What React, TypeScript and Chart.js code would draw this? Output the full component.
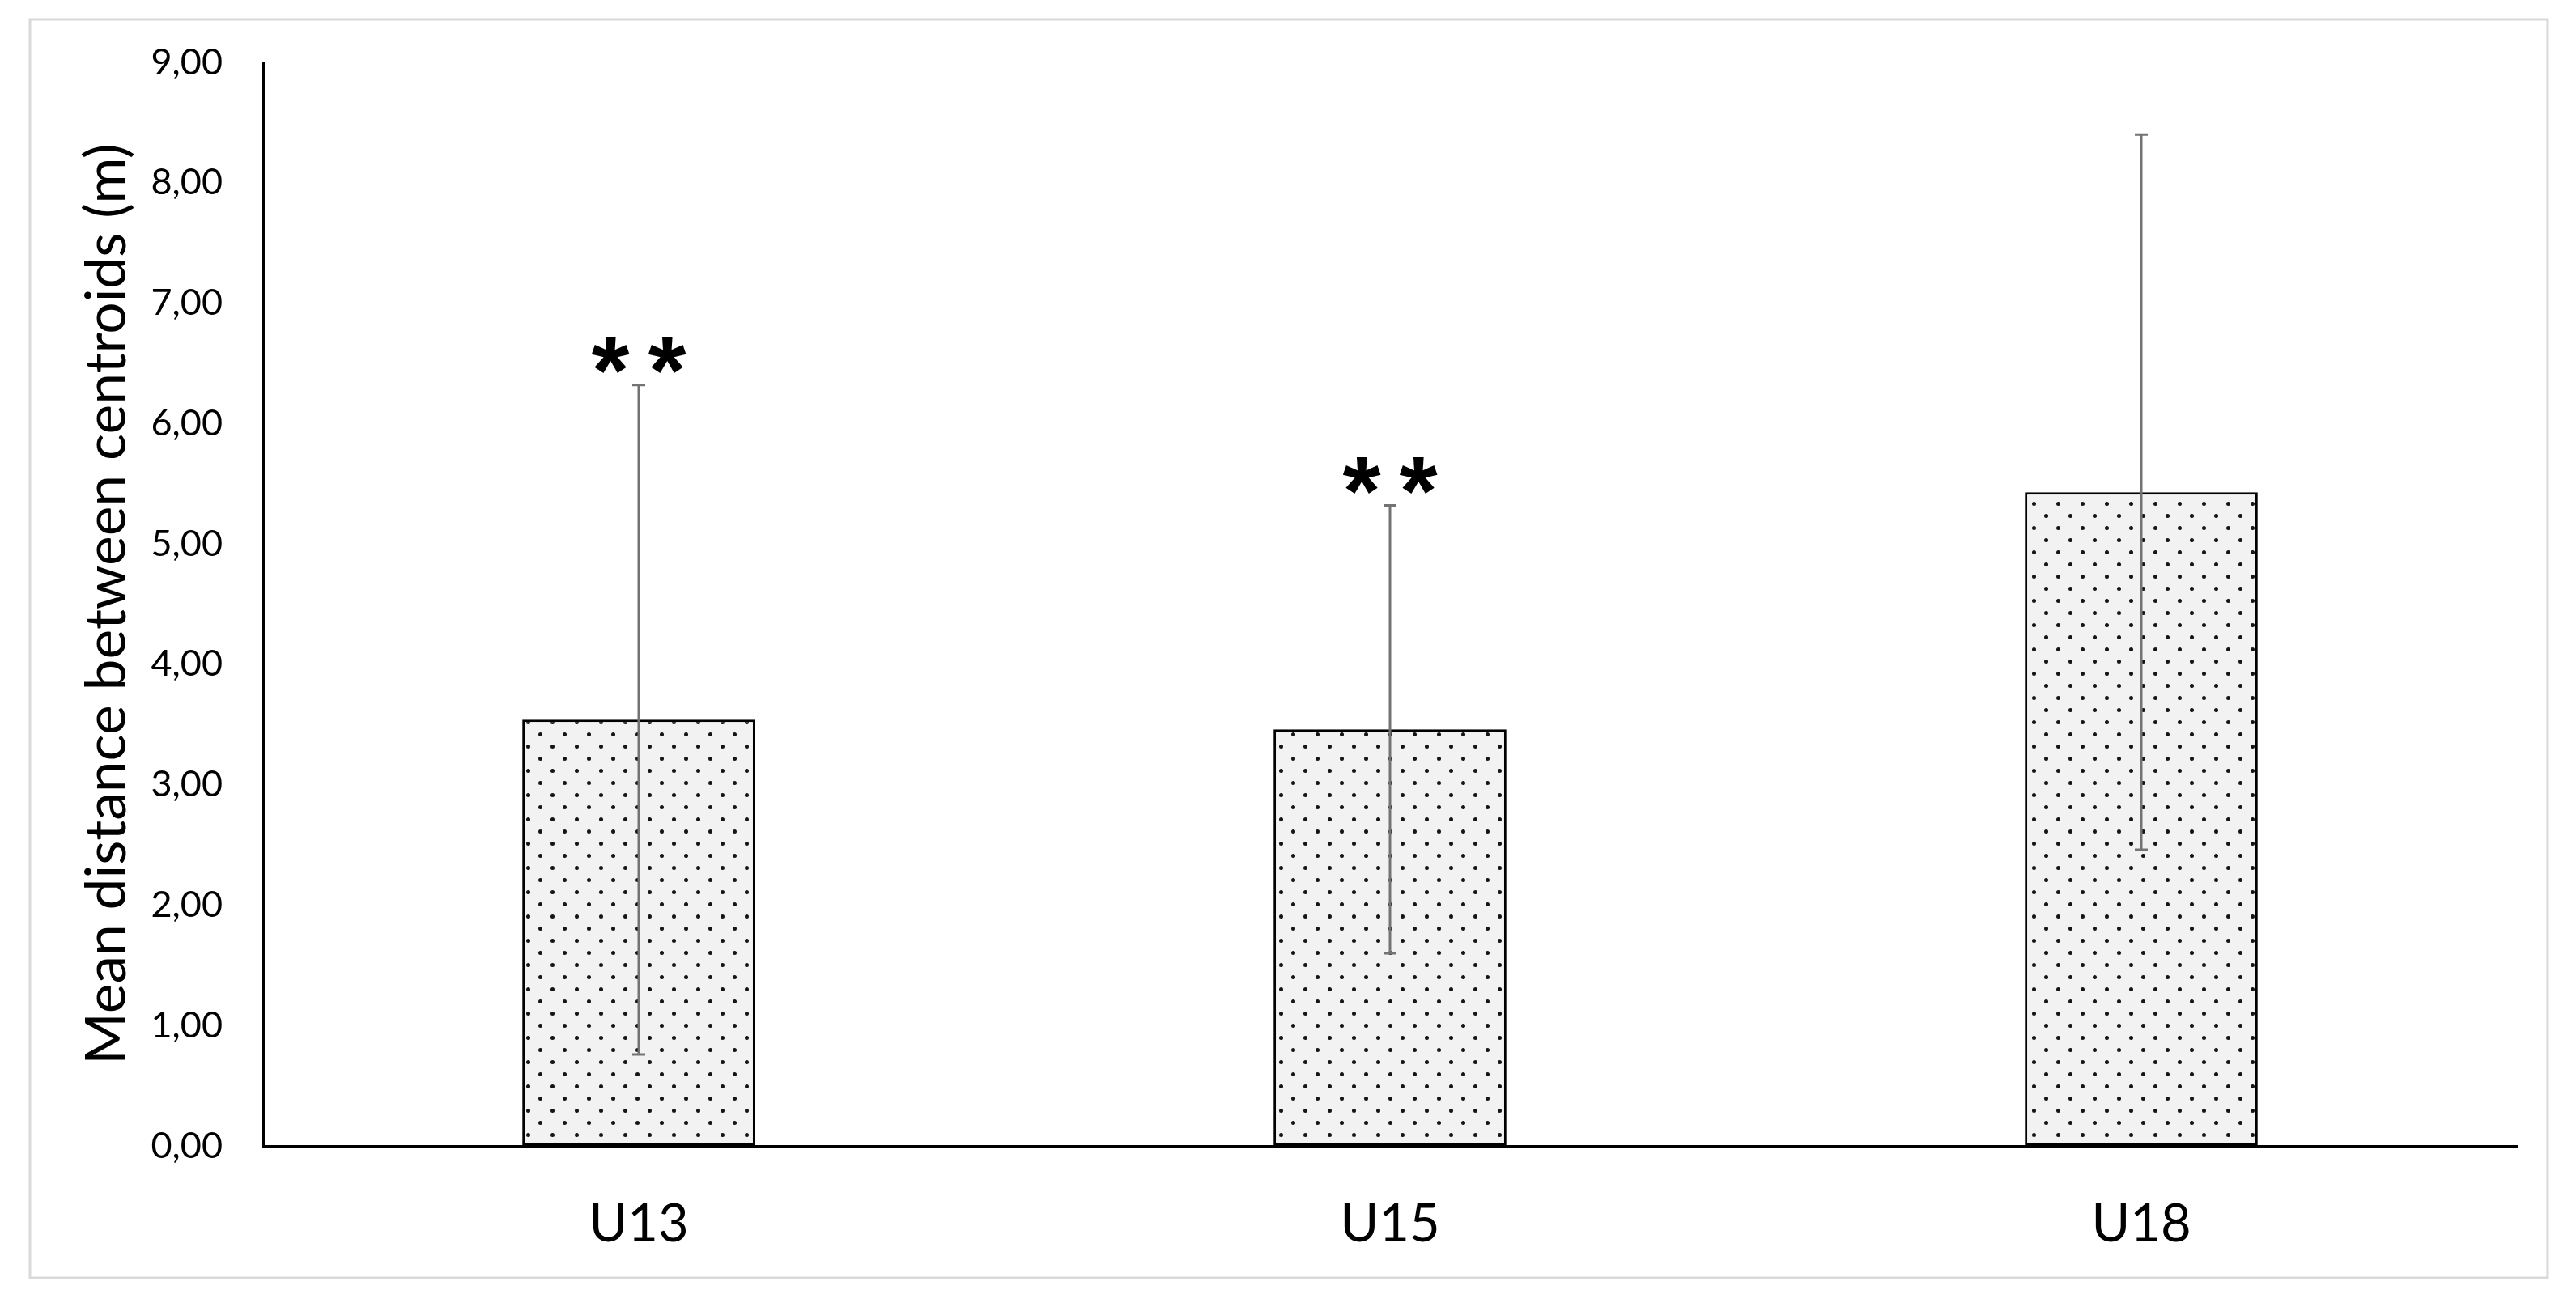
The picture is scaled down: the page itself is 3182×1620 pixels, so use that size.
import React, { useEffect, useRef } from "react";
import { Chart, registerables } from "chart.js";

Chart.register(...registerables);

// ---- data ----
const categories = ["U13", "U15", "U18"];
const means = [3.54, 3.46, 5.43];
const sds = [2.78, 1.86, 2.97];
const significance = [2, 2, 0]; // number of asterisks above each bar
const yMin = 0;
const yMax = 9;
const yStep = 1;
const yAxisTitle = "Mean distance between centroids (m)";

const W = 3182;
const H = 1620;

function makeDotPattern(ctx: CanvasRenderingContext2D) {
  const c = document.createElement("canvas");
  c.width = 30;
  c.height = 30;
  const p = c.getContext("2d")!;
  p.fillStyle = "#f2f2f2";
  p.fillRect(0, 0, 30, 30);
  p.fillStyle = "#151515";
  const dots = [
    [7.5, 7.5],
    [22.5, 22.5],
  ];
  for (const [x, y] of dots) {
    p.beginPath();
    p.arc(x, y, 2.5, 0, Math.PI * 2);
    p.fill();
  }
  return ctx.createPattern(c, "repeat")!;
}

const framePlugin = {
  id: "frame",
  beforeDraw(chart: any) {
    const ctx = chart.ctx as CanvasRenderingContext2D;
    ctx.save();
    ctx.fillStyle = "#ffffff";
    ctx.fillRect(0, 0, chart.width, chart.height);
    ctx.strokeStyle = "#d9d9d9";
    ctx.lineWidth = 3;
    ctx.strokeRect(37, 24, 3110, 1555);
    ctx.restore();
  },
};

const errorBarPlugin = {
  id: "errorBars",
  afterDatasetsDraw(chart: any) {
    const ctx = chart.ctx as CanvasRenderingContext2D;
    const meta = chart.getDatasetMeta(0);
    const ys = chart.scales.y;
    ctx.save();
    ctx.strokeStyle = "#737373";
    ctx.lineWidth = 3;
    meta.data.forEach((bar: any, i: number) => {
      const x = bar.x;
      const top = ys.getPixelForValue(means[i] + sds[i]);
      const bot = ys.getPixelForValue(means[i] - sds[i]);
      ctx.beginPath();
      ctx.moveTo(x, top);
      ctx.lineTo(x, bot);
      ctx.moveTo(x - 8, top);
      ctx.lineTo(x + 8, top);
      ctx.moveTo(x - 8, bot);
      ctx.lineTo(x + 8, bot);
      ctx.stroke();

      const n = significance[i];
      if (n > 0) {
        const fam = "'Liberation Sans'";
        ctx.font = `bold 100px ${fam}`;
        const m0 = ctx.measureText("*");
        const h0 = m0.actualBoundingBoxAscent + m0.actualBoundingBoxDescent;
        const size = (100 * 46) / h0;
        ctx.font = `bold ${size}px ${fam}`;
        const m = ctx.measureText("*");
        const cy = top - 37;
        const baseline = cy + (m.actualBoundingBoxAscent - m.actualBoundingBoxDescent) / 2;
        ctx.fillStyle = "#000000";
        ctx.textAlign = "center";
        ctx.textBaseline = "alphabetic";
        const gap = 70;
        for (let k = 0; k < n; k++) {
          const sx = x + (k - (n - 1) / 2) * gap;
          ctx.fillText("*", sx, baseline);
        }
      }
    });
    ctx.restore();
  },
};

export default function App() {
  const ref = useRef<HTMLCanvasElement | null>(null);

  useEffect(() => {
    const canvas = ref.current!;
    const ctx = canvas.getContext("2d")!;
    const pattern = makeDotPattern(ctx);

    const chart = new Chart(canvas, {
      type: "bar",
      data: {
        labels: categories,
        datasets: [
          {
            data: means,
            backgroundColor: pattern as any,
            borderColor: "#000000",
            borderWidth: 3,
            borderSkipped: false,
            categoryPercentage: 1.0,
            barPercentage: 0.31,
          },
        ],
      },
      options: {
        animation: false,
        responsive: false,
        devicePixelRatio: 1,
        layout: { padding: { left: 0, top: 75, right: 73, bottom: 0 } },
        plugins: {
          legend: { display: false },
          tooltip: { enabled: false },
        },
        scales: {
          x: {
            grid: { display: false, drawTicks: false },
            border: { display: true, color: "#000000", width: 3 },
            ticks: {
              color: "#000000",
              font: { family: "Lato", size: 65 },
              padding: 58,
            },
            afterFit(scale: any) {
              scale.height = 204;
            },
          },
          y: {
            min: yMin,
            max: yMax,
            grid: { display: false, drawTicks: false },
            border: { display: true, color: "#000000", width: 3 },
            ticks: {
              stepSize: yStep,
              color: "#000000",
              font: { family: "Lato", size: 45 },
              padding: 50,
              callback: (v: any) => Number(v).toFixed(2).replace(".", ","),
            },
            title: {
              display: true,
              text: yAxisTitle,
              color: "#000000",
              font: { family: "Lato", size: 69.5, lineHeight: 1 },
              padding: { top: 98, bottom: 0 },
            },
            afterFit(scale: any) {
              scale.width = 325;
            },
          },
        },
      },
      plugins: [framePlugin, errorBarPlugin],
    });
    return () => chart.destroy();
  }, []);

  return (
    <div style={{ position: "fixed", left: 0, top: 0, width: W, height: H, background: "#fff" }}>
      <canvas ref={ref} width={W} height={H} style={{ display: "block", width: W, height: H }} />
    </div>
  );
}
